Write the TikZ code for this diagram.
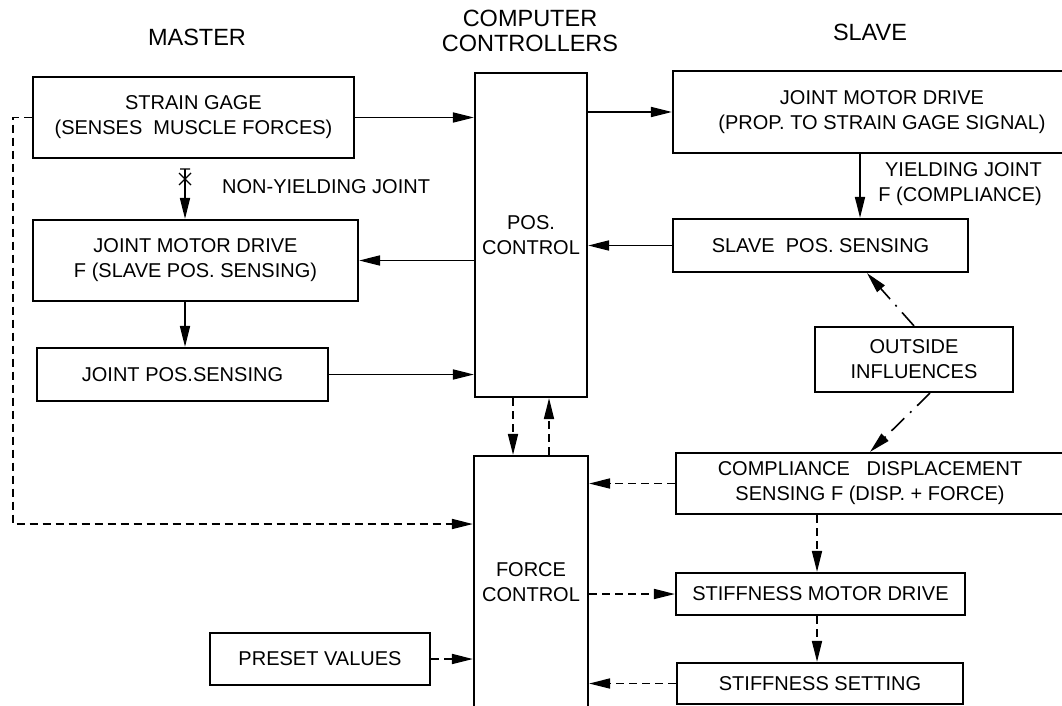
\documentclass[tikz,border=0pt]{standalone}
\usepackage{fontspec}
\setmainfont{Liberation Sans}
\usetikzlibrary{positioning}
\usetikzlibrary{arrows.meta}
\tikzset{
	blk/.style={draw,line width=2.2pt,align=center,inner sep=0pt,font=\fontsize{20}{25}\selectfont},
	lbl/.style={inner sep=0pt,font=\fontsize{20}{25}\selectfont},
	hd/.style={align=center,inner sep=0pt,font=\fontsize{23.5}{25}\selectfont},
	arr/.style={line width=1.6pt,-{Triangle[length=21pt,width=10pt]}},
	darr/.style={arr,dash pattern=on 8pt off 5pt},
	ddarr/.style={arr,dash pattern=on 18pt off 8pt on 2pt off 8pt}
}
\begin{document}
\begin{tikzpicture}[x=1pt,y=-1pt]
	\useasboundingbox (0,0) rectangle (1062,706);
	\clip (0,0) rectangle (1062,706);
	\node[hd] (mst) at (197,37) {MASTER};
	\node[hd] (cmp) at (530,31) {COMPUTER\\CONTROLLERS};
	\node[hd] (slv) at (870,32) {SLAVE};
	\node[blk,minimum width=321pt,minimum height=81pt] (sg) at (193.5,117.5) {STRAIN GAGE\\(SENSES\ \ MUSCLE FORCES)};
	\node[blk,minimum width=325pt,minimum height=81pt] (mjmd) at (195.5,260.5) {JOINT MOTOR DRIVE\\F (SLAVE POS. SENSING)};
	\node[blk,minimum width=291pt,minimum height=53pt] (jps) at (182.5,374.5) {JOINT POS.SENSING};
	\node[blk,minimum width=112pt,minimum height=324pt] (pos) at (531,235) {POS.\\CONTROL};
	\node[blk,minimum width=114pt,minimum height=252pt] (frc) at (531,582) {FORCE\\CONTROL};
	\node[blk,minimum width=220pt,minimum height=52pt] (pre) at (320,659) {PRESET VALUES};
	\node[blk,minimum width=418pt,minimum height=82pt] (sjmd) at (882,112) {JOINT MOTOR DRIVE\\(PROP. TO STRAIN GAGE SIGNAL)};
	\node[blk,minimum width=295pt,minimum height=53pt] (sps) at (820.5,245.5) {SLAVE\ \ POS. SENSING};
	\node[blk,minimum width=198pt,minimum height=65pt] (out) at (914,359.5) {OUTSIDE\\INFLUENCES};
	\node[blk,minimum width=388pt,minimum height=61pt] (comp) at (870,483.5) {COMPLIANCE\ \ \ DISPLACEMENT\\SENSING F (DISP. + FORCE)};
	\node[blk,minimum width=289pt,minimum height=42pt] (smd) at (820.5,594) {STIFFNESS MOTOR DRIVE};
	\node[blk,minimum width=286pt,minimum height=41pt] (ss) at (820,683.5) {STIFFNESS SETTING};
	\node[lbl,anchor=west] (nyj) at (222,187) {NON-YIELDING JOINT};
	\node[lbl,anchor=east,align=right] (yj) at (1042,184.5) {YIELDING JOINT\\F (COMPLIANCE)};
	\coordinate (xa) at (185,0);
	\coordinate (xb) at (860,0);
	\coordinate (xc) at (817,0);
	\coordinate (xd) at (513,0);
	\coordinate (xe) at (549,0);
	\coordinate (xl) at (13,524);
	\draw[arr] (sg.east) -- (sg.east -| pos.west);
	\draw[arr] (pos.east |- sjmd.west) -- (sjmd.west);
	\draw[arr] (sjmd.south -| xb) -- (sps.north -| xb);
	\draw[arr] (sps.west) -- (sps.west -| pos.east);
	\draw[arr] (pos.west |- mjmd.east) -- (mjmd.east);
	\draw[arr,shorten <=10pt] (sg.south -| xa) -- (mjmd.north -| xa);
	\draw[line width=1.4pt] (179,173) -- (191,185) (191,173) -- (179,185) (180,169) -- (190,169);
	\draw[arr] (mjmd.south -| xa) -- (jps.north -| xa);
	\draw[arr] (jps.east) -- (jps.east -| pos.west);
	\draw[darr] (pos.south -| xd) -- (frc.north -| xd);
	\draw[darr] (frc.north -| xe) -- (pos.south -| xe);
	\draw[darr] (sg.west) -| (xl) -- (xl -| frc.west);
	\draw[darr] (comp.west) -- (comp.west -| frc.east);
	\draw[darr] (frc.east |- smd.west) -- (smd.west);
	\draw[darr] (pre.east) -- (pre.east -| frc.west);
	\draw[darr] (ss.west) -- (ss.west -| frc.east);
	\draw[darr] (comp.south -| xc) -- (smd.north -| xc);
	\draw[darr] (smd.south -| xc) -- (ss.north -| xc);
	\draw[ddarr] (out.north) -- ([xshift=46.5pt]sps.south);
	\draw[ddarr] ([xshift=16pt]out.south) -- (comp.north);
\end{tikzpicture}
\end{document}
